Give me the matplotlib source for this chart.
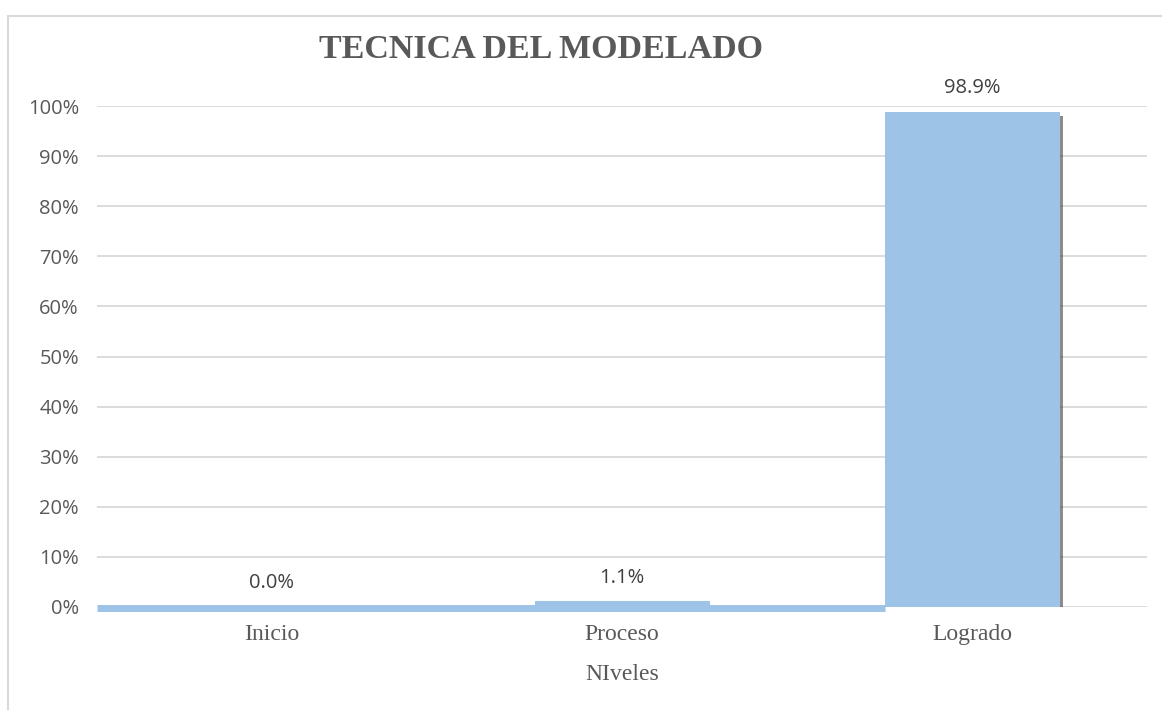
import matplotlib.pyplot as plt
import matplotlib.patheffects as pe
import numpy as np
from matplotlib.patches import Rectangle
from matplotlib.ticker import FuncFormatter

# datos del grafico
niveles = ["Inicio", "Proceso", "Logrado"]
porcentajes = [0.0, 1.1, 98.9]
y_ticks = [0, 10, 20, 30, 40, 50, 60, 70, 80, 90, 100]

titulo = "TECNICA DEL MODELADO"
eje_x = "NIveles"

azul = "#9DC3E6"
gris_texto = "#595959"
gris_grid = "#D9D9D9"
ancho = 0.5

fig = plt.figure(figsize=(11.62, 7.10), dpi=100)
ax = fig.add_axes([97 / 1162, 1 - 607 / 710, 1050 / 1162, 501 / 710])

# marco del grafico (recortado a la derecha y abajo)
fig.patches.append(Rectangle((8 / 1162, -0.1), 1.2, 1 - 16 / 710 + 0.1,
                             transform=fig.transFigure, fill=False,
                             edgecolor=gris_grid, linewidth=1.5, zorder=0))

x = np.arange(len(niveles))
bars = ax.bar(x, porcentajes, width=ancho, color=azul, zorder=3)

# sombra de la barra mayor
bars[2].set_path_effects([pe.SimplePatchShadow(offset=(2.5, -3), shadow_rgbFace="#404040", alpha=0.6),
                          pe.Normal()])

# etiquetas de datos
for xi, v in zip(x, porcentajes):
    ax.annotate(f"{v:.1f}%", (xi, v), xytext=(0, 17), textcoords="offset points",
                ha="center", va="center", fontsize=14.5, color="#404040",
                family="Open Sans")

ax.set_xlim(-0.5, 2.5)
ax.set_ylim(0, 100)
ax.set_yticks(y_ticks)
ax.yaxis.set_major_formatter(FuncFormatter(lambda v, p: f"{v:.0f}%"))
ax.grid(axis="y", color=gris_grid, linewidth=1.3, zorder=0)
ax.set_axisbelow(True)

for s in ["top", "right", "left"]:
    ax.spines[s].set_visible(False)

# banda azul en la base (como en el original)
base = ax.spines["bottom"]
base.set_color(azul)
base.set_linewidth(5)
base.set_capstyle("butt")
base.set_position(("outward", 1))
base.set_bounds(-0.5, x[2] - ancho / 2)
base.set_zorder(4)

ax.tick_params(axis="y", length=0, pad=13, labelsize=14.5, labelcolor=gris_texto)
ax.tick_params(axis="x", length=0, pad=11, labelsize=17, labelcolor=gris_texto)
for lbl in ax.get_yticklabels():
    lbl.set_family("Open Sans")

ax.set_xticks(x)
ax.set_xticklabels(niveles, family="Liberation Serif")
ax.set_xlabel(eje_x, family="Liberation Serif", fontsize=17, color=gris_texto, labelpad=14)

fig.text(541 / 1162, 1 - 50 / 710, titulo, ha="center", va="center",
         fontsize=24.5, fontweight="bold", family="Liberation Serif", color=gris_texto)

plt.savefig("out.png", dpi=100)
plt.close()
